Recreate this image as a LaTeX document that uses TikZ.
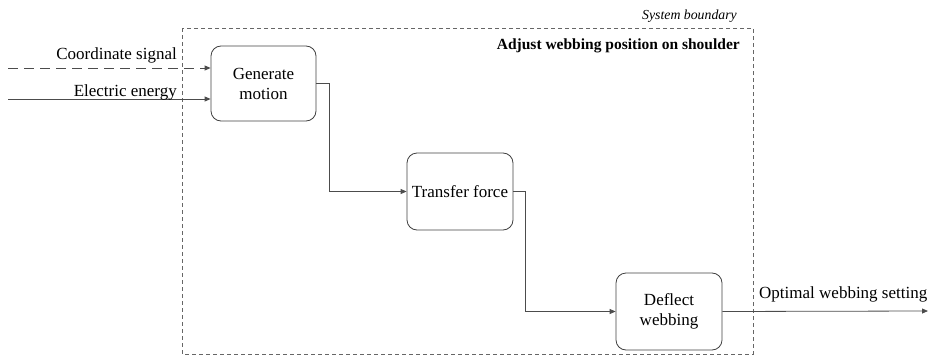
\documentclass[tikz,border=0pt]{standalone}
\usepackage{fontspec}
\setmainfont{Liberation Serif}
\usetikzlibrary{arrows.meta}
\begin{document}
\begin{tikzpicture}[x=1pt,y=-1pt,
  func/.style={draw=black!75,line width=0.8pt,rounded corners=10pt,align=center,
    font=\rmfamily\fontsize{17}{20}\selectfont,inner sep=0pt},
  flow/.style={draw=black!70,line width=0.8pt,-{Triangle[length=6pt,width=5pt]}},
  lbl/.style={font=\rmfamily\fontsize{17}{20}\selectfont,inner sep=0pt},
  boundary/.style={draw=black!60,line width=0.7pt,dash pattern=on 4pt off 3pt}]
  \useasboundingbox (0,0) rectangle (931,356);

  % system boundary
  \draw[boundary] (182,28) rectangle (753,354);
  \node[font=\rmfamily\fontsize{13.8}{16}\selectfont\itshape,anchor=base east,inner sep=0pt]
    (sysb) at (737,19) {System boundary};
  \node[font=\rmfamily\fontsize{15.5}{18}\selectfont\bfseries,anchor=base east,inner sep=0pt]
    (title) at (740,49) {Adjust webbing position on shoulder};

  % functions
  \node[func,minimum width=105pt,minimum height=75pt] (gen) at (263.5,83.5) {Generate\\motion};
  \node[func,minimum width=106pt,minimum height=77pt] (tf) at (460,191.5) {Transfer force};
  \node[func,minimum width=106pt,minimum height=77pt] (df) at (669,311.5) {Deflect\\webbing};

  % inputs and output
  \coordinate (in1) at (8,68);
  \coordinate (in2) at (8,99);
  \coordinate (out) at (928,311);
  \draw[flow,dash pattern=on 10pt off 6pt] (in1) -- (gen.west |- in1);
  \draw[flow] (in2) -- (gen.west |- in2);
  \draw[flow] (df.east) -- (out);
  \node[lbl,anchor=base east] (l1) at (177,59) {Coordinate signal};
  \node[lbl,anchor=base east] (l2) at (177,96) {Electric energy};
  \node[lbl,anchor=base west] (l3) at (759,298) {Optimal webbing setting};

  % internal flows
  \draw[flow] (gen.east) -- ++(13,0) |- (tf.west);
  \draw[flow] (tf.east) -- ++(12,0) |- (df.west);
\end{tikzpicture}
\end{document}
